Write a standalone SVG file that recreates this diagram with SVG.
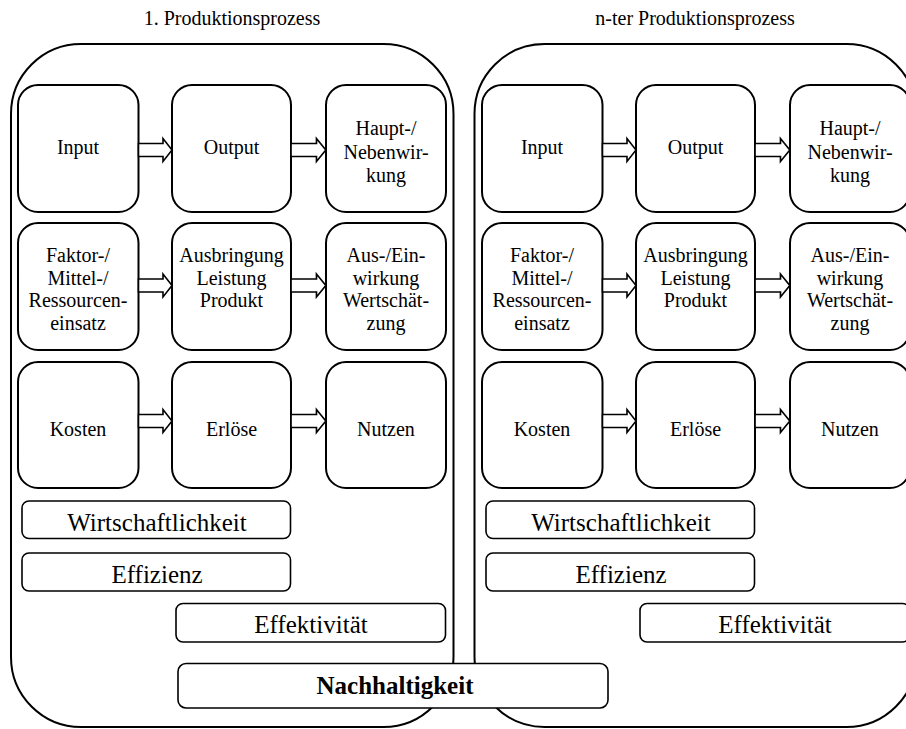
<svg xmlns="http://www.w3.org/2000/svg" xmlns:xlink="http://www.w3.org/1999/xlink" width="906" height="729" viewBox="0 0 906 729">
  <style>
    text { font-family: "Liberation Serif", "Times New Roman", serif; fill: #000; text-anchor: middle; }
    .title { font-size: 20px; }
    .lbl { font-size: 20px; }
    .big { font-size: 25px; }
    .bold { font-size: 25px; font-weight: bold; }
    .frame { fill: none; stroke: #000; stroke-width: 2; }
    .box { fill: #fff; stroke: #000; stroke-width: 2; }
    .bar { fill: #fff; stroke: #000; stroke-width: 1.6; }
    .arrow { fill: #fff; stroke: #000; stroke-width: 1.6; stroke-linejoin: miter; }
  </style>
  <defs>
    <!-- hollow block arrow, origin at the tail centre -->
    <path id="blockArrow" class="arrow" d="M0,-6.5 H24.5 V-11.5 L33.5,0 L24.5,11.5 V6.5 H0 Z"/>
  </defs>
  <rect width="906" height="729" fill="#fff"/>

  <!-- process 1 -->
  <g id="process-1">
    <text class="title" x="232" y="25">1. Produktionsprozess</text>
    <rect class="frame" x="11" y="44" width="442.5" height="683" rx="70" ry="70"/>
  </g>
  <g id="p1-input"><rect class="box" x="18" y="85" width="120.5" height="127" rx="20"/><text class="lbl" x="78" y="154">Input</text></g>
  <g id="p1-output"><rect class="box" x="172" y="85" width="119" height="127" rx="20"/><text class="lbl" x="231.5" y="154">Output</text></g>
  <g id="p1-wirkung"><rect class="box" x="326" y="85" width="120" height="127" rx="20"/>
    <text class="lbl" x="386" y="135">Haupt-/</text><text class="lbl" x="386" y="159">Nebenwir-</text><text class="lbl" x="386" y="182">kung</text></g>
  <g id="p1-einsatz"><rect class="box" x="18" y="223" width="120.5" height="127" rx="20"/>
    <text class="lbl" x="78" y="262">Faktor-/</text><text class="lbl" x="78" y="284.5">Mittel-/</text><text class="lbl" x="78" y="307">Ressourcen-</text><text class="lbl" x="78" y="329.5">einsatz</text></g>
  <g id="p1-ausbringung"><rect class="box" x="172" y="223" width="119" height="127" rx="20"/>
    <text class="lbl" x="231.5" y="262">Ausbringung</text><text class="lbl" x="231.5" y="284.5">Leistung</text><text class="lbl" x="231.5" y="307">Produkt</text></g>
  <g id="p1-einwirkung"><rect class="box" x="326" y="223" width="120" height="127" rx="20"/>
    <text class="lbl" x="386" y="262">Aus-/Ein-</text><text class="lbl" x="386" y="284.5">wirkung</text><text class="lbl" x="386" y="307">Wertschät-</text><text class="lbl" x="386" y="329.5">zung</text></g>
  <g id="p1-kosten"><rect class="box" x="18" y="362" width="120.5" height="126" rx="20"/><text class="lbl" x="78" y="436">Kosten</text></g>
  <g id="p1-erloese"><rect class="box" x="172" y="362" width="119" height="126" rx="20"/><text class="lbl" x="231.5" y="436">Erlöse</text></g>
  <g id="p1-nutzen"><rect class="box" x="326" y="362" width="120" height="126" rx="20"/><text class="lbl" x="386" y="436">Nutzen</text></g>
  <g id="p1-wirtschaftlichkeit"><rect class="bar" x="22" y="501" width="268.5" height="37.5" rx="7"/><text class="big" x="157" y="530.5">Wirtschaftlichkeit</text></g>
  <g id="p1-effizienz"><rect class="bar" x="22" y="553" width="268.5" height="38" rx="7"/><text class="big" x="157" y="582.5">Effizienz</text></g>
  <g id="p1-effektivitaet"><rect class="bar" x="176" y="603.5" width="269.5" height="38.5" rx="7"/><text class="big" x="311" y="633">Effektivität</text></g>

  <!-- process n -->
  <g id="process-n">
    <text class="title" x="695" y="25">n-ter Produktionsprozess</text>
    <rect class="frame" x="474.5" y="44" width="442" height="683" rx="70" ry="70"/>
  </g>
  <g id="pn-input"><rect class="box" x="482" y="85" width="120.5" height="127" rx="20"/><text class="lbl" x="542" y="154">Input</text></g>
  <g id="pn-output"><rect class="box" x="636" y="85" width="119" height="127" rx="20"/><text class="lbl" x="695.5" y="154">Output</text></g>
  <g id="pn-wirkung"><rect class="box" x="790" y="85" width="120" height="127" rx="20"/>
    <text class="lbl" x="850" y="135">Haupt-/</text><text class="lbl" x="850" y="159">Nebenwir-</text><text class="lbl" x="850" y="182">kung</text></g>
  <g id="pn-einsatz"><rect class="box" x="482" y="223" width="120.5" height="127" rx="20"/>
    <text class="lbl" x="542" y="262">Faktor-/</text><text class="lbl" x="542" y="284.5">Mittel-/</text><text class="lbl" x="542" y="307">Ressourcen-</text><text class="lbl" x="542" y="329.5">einsatz</text></g>
  <g id="pn-ausbringung"><rect class="box" x="636" y="223" width="119" height="127" rx="20"/>
    <text class="lbl" x="695.5" y="262">Ausbringung</text><text class="lbl" x="695.5" y="284.5">Leistung</text><text class="lbl" x="695.5" y="307">Produkt</text></g>
  <g id="pn-einwirkung"><rect class="box" x="790" y="223" width="120" height="127" rx="20"/>
    <text class="lbl" x="850" y="262">Aus-/Ein-</text><text class="lbl" x="850" y="284.5">wirkung</text><text class="lbl" x="850" y="307">Wertschät-</text><text class="lbl" x="850" y="329.5">zung</text></g>
  <g id="pn-kosten"><rect class="box" x="482" y="362" width="120.5" height="126" rx="20"/><text class="lbl" x="542" y="436">Kosten</text></g>
  <g id="pn-erloese"><rect class="box" x="636" y="362" width="119" height="126" rx="20"/><text class="lbl" x="695.5" y="436">Erlöse</text></g>
  <g id="pn-nutzen"><rect class="box" x="790" y="362" width="120" height="126" rx="20"/><text class="lbl" x="850" y="436">Nutzen</text></g>
  <g id="pn-wirtschaftlichkeit"><rect class="bar" x="486" y="501" width="268.5" height="37.5" rx="7"/><text class="big" x="621" y="530.5">Wirtschaftlichkeit</text></g>
  <g id="pn-effizienz"><rect class="bar" x="486" y="553" width="268.5" height="38" rx="7"/><text class="big" x="621" y="582.5">Effizienz</text></g>
  <g id="pn-effektivitaet"><rect class="bar" x="640" y="603.5" width="269.5" height="38.5" rx="7"/><text class="big" x="775" y="633">Effektivität</text></g>

  <!-- block arrows between the boxes of each row -->
  <g id="connectors">
    <use xlink:href="#blockArrow" transform="translate(138.5,150)"/>
    <use xlink:href="#blockArrow" transform="translate(291,150) scale(1.04,1)"/>
    <use xlink:href="#blockArrow" transform="translate(138.5,285.5)"/>
    <use xlink:href="#blockArrow" transform="translate(291,285.5) scale(1.04,1)"/>
    <use xlink:href="#blockArrow" transform="translate(138.5,421)"/>
    <use xlink:href="#blockArrow" transform="translate(291,421) scale(1.04,1)"/>
    <use xlink:href="#blockArrow" transform="translate(602.5,150)"/>
    <use xlink:href="#blockArrow" transform="translate(755,150) scale(1.04,1)"/>
    <use xlink:href="#blockArrow" transform="translate(602.5,285.5)"/>
    <use xlink:href="#blockArrow" transform="translate(755,285.5) scale(1.04,1)"/>
    <use xlink:href="#blockArrow" transform="translate(602.5,421)"/>
    <use xlink:href="#blockArrow" transform="translate(755,421) scale(1.04,1)"/>
  </g>

  <!-- shared bar across both processes, drawn on top -->
  <g id="nachhaltigkeit"><rect class="bar" x="178" y="663.5" width="430" height="44.5" rx="8"/><text class="bold" x="395" y="694">Nachhaltigkeit</text></g>
</svg>
